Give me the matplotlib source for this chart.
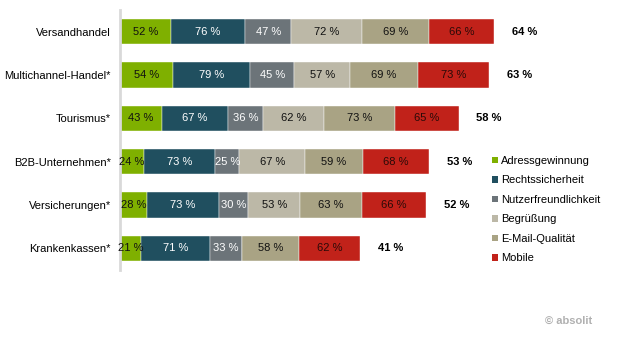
import matplotlib.pyplot as plt
from matplotlib.patches import Patch
import numpy as np

plt.rcParams['font.family'] = ['Liberation Sans', 'DejaVu Sans']

categories = ['Versandhandel', 'Multichannel-Handel*', 'Tourismus*',
              'B2B-Unternehmen*', 'Versicherungen*', 'Krankenkassen*']
series_names = ['Adressgewinnung', 'Rechtssicherheit', 'Nutzerfreundlichkeit',
                'Begrüßung', 'E-Mail-Qualität', 'Mobile']
adressgewinnung = [52, 54, 43, 24, 28, 21]
rechtssicherheit = [76, 79, 67, 73, 73, 71]
nutzerfreundlichkeit = [47, 45, 36, 25, 30, 33]
begruessung = [72, 57, 62, 67, 53, 0]
email_qualitaet = [69, 69, 73, 59, 63, 58]
mobile = [66, 73, 65, 68, 66, 62]
totals = [64, 63, 58, 53, 52, 41]

series = [adressgewinnung, rechtssicherheit, nutzerfreundlichkeit,
          begruessung, email_qualitaet, mobile]
colors = ['#7fb000', '#204f5f', '#6c7479', '#bcb8a7', '#a9a384', '#c1221a']
text_colors = ['#111111', 'white', 'white', '#111111', '#111111', '#2a0a08']

fig = plt.figure(figsize=(6.2, 3.43), dpi=100)
ax = fig.add_axes([120 / 620, 73 / 343, 470 / 620, 260 / 343])

y = np.arange(len(categories))
left = np.zeros(len(categories))
for vals, name, c, tc in zip(series, series_names, colors, text_colors):
    vals = np.array(vals, dtype=float)
    ax.barh(y, vals, left=left, height=0.58, color=c, label=name,
            edgecolor='white', linewidth=0.3)
    for yi, l, v in zip(y, left, vals):
        if v > 0:
            ax.text(l + v / 2, yi, f'{int(v)} %', ha='center', va='center',
                    fontsize=8, color=tc)
    left += vals

for yi, l, t in zip(y, left, totals):
    ax.text(l + 31, yi, f'{t} %', ha='center', va='center',
            fontsize=8, fontweight='bold', color='black')

ax.set_xlim(0, 480)
ax.set_ylim(len(categories) - 0.5, -0.5)
ax.set_yticks(y)
ax.set_yticklabels(categories, fontsize=8)
ax.tick_params(axis='y', length=0, pad=6.5)
ax.set_xticks([])
for s in ['top', 'right', 'bottom']:
    ax.spines[s].set_visible(False)
ax.spines['left'].set_color('#d9d9d9')
ax.spines['left'].set_linewidth(2)

handles = [Patch(facecolor=c, edgecolor='none') for c in colors]
fig.legend(handles, series_names, loc='upper left',
           bbox_to_anchor=(492 / 620, 1 - 156 / 343), frameon=False,
           fontsize=8, handlelength=0.55, handleheight=0.55,
           handletextpad=0.3, labelspacing=0.85, borderaxespad=0, borderpad=0)

fig.text(545 / 620, 1 - 321 / 343, '© absolit', fontsize=8, color='#b0b0b0',
         fontweight='bold', va='center', ha='left')

fig.savefig('out.png', dpi=100)
